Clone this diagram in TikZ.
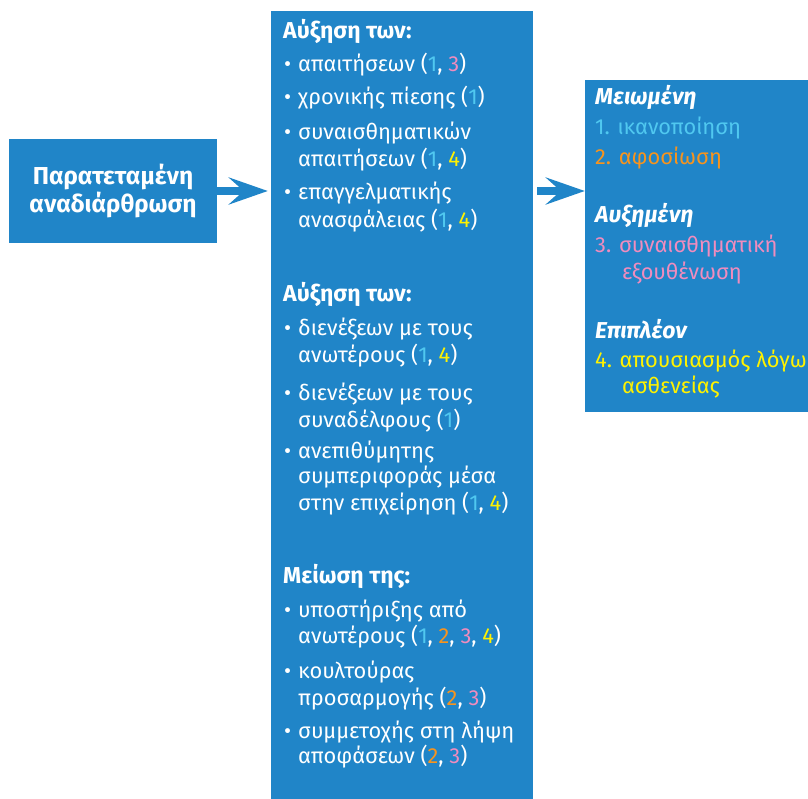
\documentclass[tikz,border=0pt]{standalone}
\usepackage{fontspec}
\setmainfont{Fira Sans}
\usepackage{tikz}
\usetikzlibrary{arrows.meta, positioning}
\usepackage{xcolor}
\definecolor{boxblue}{RGB}{32,133,200}
\definecolor{cOne}{RGB}{80,200,240}
\definecolor{cTwo}{RGB}{247,148,29}
\definecolor{cThree}{RGB}{240,140,190}
\definecolor{cFour}{RGB}{255,242,0}
\newcommand{\nOne}{\textcolor{cOne}{1}}
\newcommand{\nTwo}{\textcolor{cTwo}{2}}
\newcommand{\nThree}{\textcolor{cThree}{3}}
\newcommand{\nFour}{\textcolor{cFour}{4}}

\begin{document}
\begin{tikzpicture}[x=1pt, y=-1pt,
    box/.style={fill=boxblue, draw=none, inner sep=0pt},
    head/.style={anchor=base west, inner sep=0pt, text=white,
      font=\bfseries\fontsize{23}{27}\selectfont},
    item/.style={anchor=base west, inner sep=0pt, text=white,
      font=\fontsize{21.8}{26}\selectfont},
    bigarrow/.style={line width=8pt, boxblue,
      -{Stealth[length=39pt, width=27pt, inset=15pt]}}]
    \useasboundingbox (0,0) rectangle (808,799);

    % boxes
    \node[box, minimum width=208pt, minimum height=104pt, align=center,
      text=white, font=\bfseries\fontsize{24.5}{28}\selectfont] (cause) at (113,191)
      {Παρατεταμένη\\αναδιάρθρωση};
    \node[box, minimum width=262pt, minimum height=790pt] (factors) at (402,406) {};
    \node[box, minimum width=226pt, minimum height=332pt] (effects) at (698,246) {};

    % arrows
    \draw[bigarrow, shorten >=3pt] (cause.east) -- (cause.east -| factors.west);
    \draw[bigarrow, shorten <=4pt] (factors.east |- cause.east) -- (effects.west |- cause.east);

    % --- middle column: headings ---
    \node[head] (h1) at (283,39) {Αύξηση των:};
    \node[head] (h2) at (283,302) {Αύξηση των:};
    \node[head] (h3) at (283,583) {Μείωση της:};

    % bullets
    \foreach \y [count=\i] in {72,105,140,200,335,400,458,617,678,738}
      \node[item] (b\i) at (284,\y) {•};

    % lines of the list
    \foreach \y/\t [count=\i] in {
        72/{απαιτήσεων (\nOne, \nThree)},
        105/{χρονικής πίεσης (\nOne)},
        140/{συναισθηματικών},
        167/{απαιτήσεων (\nOne, \nFour)},
        200/{επαγγελματικής},
        228/{ανασφάλειας (\nOne, \nFour)},
        335/{διενέξεων με τους},
        362/{ανωτέρους (\nOne, \nFour)},
        400/{διενέξεων με τους},
        427/{συναδέλφους (\nOne)},
        458/{ανεπιθύμητης},
        483/{συμπεριφοράς μέσα},
        510/{στην επιχείρηση (\nOne, \nFour)},
        617/{υποστήριξης από},
        643/{ανωτέρους (\nOne, \nTwo, \nThree, \nFour)},
        678/{κουλτούρας},
        705/{προσαρμογής (\nTwo, \nThree)},
        738/{συμμετοχής στη λήψη},
        763/{αποφάσεων (\nTwo, \nThree)}}
      \node[item] (m\i) at (298,\y) {\t};

    % --- right column: outcomes ---
    \node[head, font=\bfseries\itshape\fontsize{23}{27}\selectfont] (r1) at (595,105) {Μειωμένη};
    \node[item, text=cOne] (o1) at (595,135) {1. ικανοποίηση};
    \node[item, text=cTwo] (o2) at (595,165) {2. αφοσίωση};
    \node[head, font=\bfseries\itshape\fontsize{23}{27}\selectfont] (r2) at (595,223) {Αυξημένη};
    \node[item, text=cThree] (o3) at (595,253) {3. συναισθηματική};
    \node[item, text=cThree] (o3b) at (622,280) {εξουθένωση};
    \node[head, font=\bfseries\itshape\fontsize{23}{27}\selectfont] (r3) at (595,338) {Επιπλέον};
    \node[item, text=cFour] (o4) at (595,367) {4. απουσιασμός λόγω};
    \node[item, text=cFour] (o4b) at (622,393) {ασθενείας};
  \end{tikzpicture}
\end{document}
